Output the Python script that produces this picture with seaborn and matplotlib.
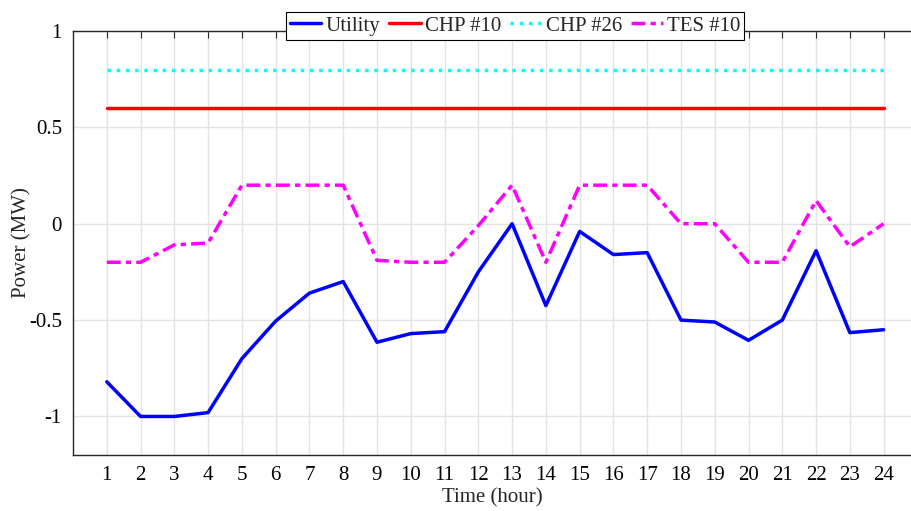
import numpy as np
import pandas as pd
import matplotlib
matplotlib.use('Agg')
import matplotlib.pyplot as plt
import seaborn as sns

hours = list(range(1, 25))
utility = [-0.82, -1.0, -1.0, -0.98, -0.70, -0.505, -0.36, -0.30, -0.615, -0.57,
           -0.56, -0.25, 0.0, -0.425, -0.04, -0.16, -0.15, -0.50, -0.51, -0.605,
           -0.50, -0.14, -0.565, -0.55]
chp10 = [0.6] * 24
chp26 = [0.8] * 24
tes10 = [-0.2, -0.2, -0.11, -0.10, 0.2, 0.2, 0.2, 0.2, -0.19, -0.2,
         -0.2, -0.01, 0.2, -0.2, 0.2, 0.2, 0.2, 0.0, 0.0, -0.2,
         -0.2, 0.12, -0.12, 0.0]
yticks = [-1, -0.5, 0, 0.5, 1]
ytick_labels = ['-1', '-0.5', '0', '0.5', '1']

sns.set_style('white')
plt.rcParams['font.family'] = ['Liberation Serif', 'DejaVu Serif']

fig = plt.figure(figsize=(9.12, 5.11), dpi=100)
ax = fig.add_axes([73 / 912, 1 - 455 / 511, 1 - 73 / 912, (455 - 31) / 511])

sns.lineplot(x=hours, y=utility, ax=ax, color='#0000ff', lw=2.5, label='Utility')
sns.lineplot(x=hours, y=chp10, ax=ax, color='#ff0000', lw=2.5, label='CHP #10')
sns.lineplot(x=hours, y=chp26, ax=ax, color='#00ffff', lw=2.5, ls=':', label='CHP #26')
sns.lineplot(x=hours, y=tes10, ax=ax, color='#ff00ff', lw=2.5, ls=(0, (4, 1.5, 1.5, 1.5)), label='TES #10')

ax.set_xlim(0, 24.84)
ax.set_ylim(-1.2, 1)
ax.set_xticks(hours)
ax.set_yticks(yticks)
ax.set_yticklabels(ytick_labels)
ax.grid(True, color='#e3e3e3', lw=1)
ax.tick_params(direction='in', length=5, width=0.8, labelsize=15, top=True, colors='#262626',
               labelcolor='black', pad=8)
for side in ['left', 'bottom', 'top']:
    ax.spines[side].set_color('#262626')
    ax.spines[side].set_linewidth(1)
ax.spines['right'].set_visible(False)
ax.set_xlabel('Time (hour)', fontsize=15, labelpad=2)
ax.set_ylabel('Power (MW)', fontsize=15)
ax.yaxis.set_label_coords((31 - 73) / 839, 0.5)

leg = ax.legend(loc='center', bbox_to_anchor=((515 - 73) / (912 - 73), 1 + (31 - 26) / 424),
                ncol=4, fontsize=15, frameon=True, fancybox=False, edgecolor='black',
                handlelength=1.5, handletextpad=0.2, columnspacing=0.45, borderpad=0.2,
                borderaxespad=0)
leg.get_frame().set_linewidth(0.8)
leg.get_frame().set_alpha(1)

fig.savefig('out.png', dpi=100)
